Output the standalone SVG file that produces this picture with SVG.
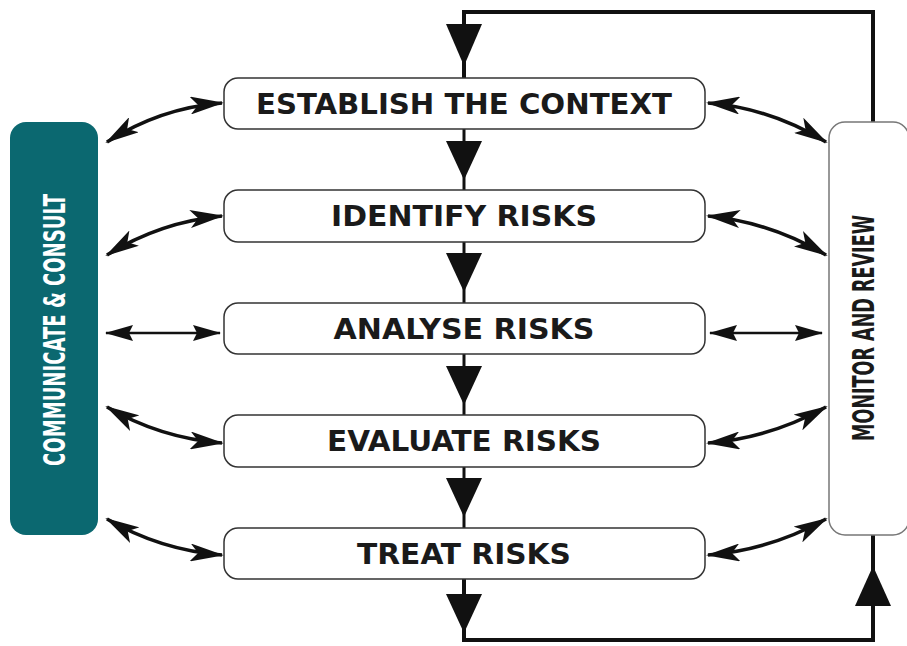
<svg xmlns="http://www.w3.org/2000/svg" width="907" height="646" viewBox="0 0 907 646">
<defs>
<style>
.box{fill:#fff;stroke:#333;stroke-width:1.5}
.lbl{font-family:"DejaVu Sans Condensed","Liberation Sans Narrow","Liberation Sans",sans-serif;font-stretch:condensed;font-weight:bold;font-size:28px;fill:#1a1a1a;text-anchor:middle}
.line{fill:none;stroke:#111;stroke-width:4}
.ca{fill:none;stroke:#111;stroke-width:3.5;marker-start:url(#h);marker-end:url(#h)}
.sa{fill:none;stroke:#111;stroke-width:2.5;marker-start:url(#hs);marker-end:url(#hs)}
.tri{fill:#111}
</style>
<marker id="h" viewBox="0 0 34 18" refX="32" refY="9" markerWidth="34" markerHeight="18" markerUnits="userSpaceOnUse" orient="auto-start-reverse"><path d="M0,0 L34,9 L0,18 L8,9 Z" fill="#111"/></marker>
<marker id="hs" viewBox="0 0 28 16" refX="27" refY="8" markerWidth="28" markerHeight="16" markerUnits="userSpaceOnUse" orient="auto-start-reverse"><path d="M0,0 L28,8 L0,16 L4,8 Z" fill="#111"/></marker>
</defs>
<rect width="907" height="646" fill="#fff"/>
<g id="connectors">
<path class="line" d="M464,78 V12 H873 V122"/>
<path class="line" d="M464,579 V640 H873 V535"/>
<line x1="464" y1="129" x2="464" y2="190" stroke="#111" stroke-width="3"/>
<line x1="464" y1="242" x2="464" y2="303" stroke="#111" stroke-width="3"/>
<line x1="464" y1="354" x2="464" y2="415" stroke="#111" stroke-width="3"/>
<line x1="464" y1="467" x2="464" y2="528" stroke="#111" stroke-width="3"/>
<polygon class="tri" points="446,24 482,24 464,66"/>
<polygon class="tri" points="446,141 482,141 464,180"/>
<polygon class="tri" points="446,253 482,253 464,292"/>
<polygon class="tri" points="446,366 482,366 464,405"/>
<polygon class="tri" points="446,478 482,478 464,517"/>
<polygon class="tri" points="446,594 482,594 464,633"/>
<polygon class="tri" points="855,606 891,606 873,566"/>
<path class="ca" d="M107,142 Q160,108 222,103"/>
<path class="ca" d="M107,255 Q160,222 222,216"/>
<path class="sa" d="M106,333 H220"/>
<path class="ca" d="M107,407 Q160,438 222,443"/>
<path class="ca" d="M107,519 Q160,550 222,555"/>
<path class="ca" d="M708,103 Q770,108 826,142"/>
<path class="ca" d="M708,216 Q770,222 826,255"/>
<path class="sa" d="M710,333 H822"/>
<path class="ca" d="M708,443 Q770,438 826,407"/>
<path class="ca" d="M708,555 Q770,550 826,519"/>
</g>
<g id="communicate">
<rect x="10" y="122" width="88" height="413" rx="16" fill="#0b6870"/>
<text class="lbl" transform="translate(65,330) rotate(-90)" style="fill:#fff;font-size:30px" textLength="272" lengthAdjust="spacingAndGlyphs">COMMUNICATE &amp; CONSULT</text>
</g>
<g id="monitor">
<rect x="829" y="122" width="80" height="413" rx="16" fill="#fff" stroke="#777" stroke-width="1.5"/>
<text class="lbl" transform="translate(874,328) rotate(-90)" style="font-size:30px" textLength="226" lengthAdjust="spacingAndGlyphs">MONITOR AND REVIEW</text>
</g>
<g id="establish">
<rect class="box" x="224" y="78" width="481" height="51" rx="14"/>
<text class="lbl" x="464" y="114" textLength="416" lengthAdjust="spacingAndGlyphs">ESTABLISH THE CONTEXT</text>
</g>
<g id="identify">
<rect class="box" x="224" y="190" width="481" height="52" rx="14"/>
<text class="lbl" x="464" y="226" textLength="266" lengthAdjust="spacingAndGlyphs">IDENTIFY RISKS</text>
</g>
<g id="analyse">
<rect class="box" x="224" y="303" width="481" height="51" rx="14"/>
<text class="lbl" x="464" y="339" textLength="261" lengthAdjust="spacingAndGlyphs">ANALYSE RISKS</text>
</g>
<g id="evaluate">
<rect class="box" x="224" y="415" width="481" height="52" rx="14"/>
<text class="lbl" x="464" y="451" textLength="274" lengthAdjust="spacingAndGlyphs">EVALUATE RISKS</text>
</g>
<g id="treat">
<rect class="box" x="224" y="528" width="481" height="51" rx="14"/>
<text class="lbl" x="464" y="564" textLength="214" lengthAdjust="spacingAndGlyphs">TREAT RISKS</text>
</g>
</svg>
